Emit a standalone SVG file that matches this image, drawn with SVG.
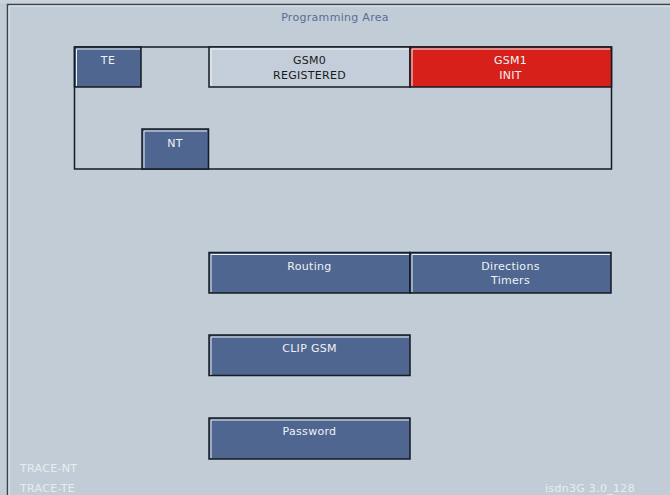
<svg xmlns="http://www.w3.org/2000/svg" width="670" height="495" viewBox="0 0 670 495">
<style>
text{font-family:"DejaVu Sans","Liberation Sans",sans-serif;font-size:11px;letter-spacing:0.3px;text-anchor:middle}
.btn{fill:#4e6690;stroke:#161a22;stroke-width:1.5}
.red{fill:#d8201a;stroke:#161a22;stroke-width:1.5}
.lt{fill:#c4ceda;stroke:#161a22;stroke-width:1.5}
.hl{fill:none;stroke:#eef2f6;stroke-width:1}
.w{fill:#eef2f6}
.k{fill:#1a1a1a}
.lbl{fill:#e8ecf1;text-anchor:start}
</style>
<rect x="0" y="0" width="670" height="495" fill="#c1ccd7"/>
<rect x="0" y="0" width="670" height="3.5" fill="#cbd2da"/>
<g id="frame">
<path d="M7.5 495 V4.5 H670" fill="none" stroke="#3c4048" stroke-width="1.5"/>
<path d="M9 495 V6 H670" fill="none" stroke="#e6ebf0" stroke-width="1"/>
<text x="335" y="21" fill="#5a6c96">Programming Area</text>
<rect x="74.5" y="47" width="537" height="122" fill="none" stroke="#161a22" stroke-width="1.5"/>
</g>
<g id="te">
<rect class="btn" x="74.5" y="47" width="66.5" height="40"/>
<path class="hl" d="M76.5 86 V49 H140"/>
<text class="w" x="108" y="64">TE</text>
</g>
<g id="gsm0">
<rect class="lt" x="209" y="47" width="201" height="40"/>
<path class="hl" d="M211 86 V49 H409"/>
<text class="k" x="309.5" y="64">GSM0</text>
<text class="k" x="309.5" y="79">REGISTERED</text>
</g>
<g id="gsm1">
<rect class="red" x="410" y="47" width="201.5" height="40"/>
<path class="hl" d="M412 86 V49 H610"/>
<text class="w" x="510.5" y="64">GSM1</text>
<text class="w" x="510.5" y="79">INIT</text>
</g>
<g id="nt">
<rect class="btn" x="142" y="129" width="66.5" height="40"/>
<path class="hl" d="M144 168 V131 H207"/>
<text class="w" x="175" y="147">NT</text>
</g>
<g id="routing">
<rect class="btn" x="209" y="252.5" width="201" height="40.5"/>
<path class="hl" d="M211 292 V254.5 H409"/>
<text class="w" x="309.5" y="270">Routing</text>
</g>
<g id="directions">
<rect class="btn" x="410" y="252.5" width="201" height="40.5"/>
<path class="hl" d="M412 292 V254.5 H610"/>
<text class="w" x="510.5" y="270">Directions</text>
<text class="w" x="510.5" y="284">Timers</text>
</g>
<g id="clip">
<rect class="btn" x="209" y="335" width="201" height="40.5"/>
<path class="hl" d="M211 375 V337 H409"/>
<text class="w" x="309.5" y="352">CLIP GSM</text>
</g>
<g id="password">
<rect class="btn" x="209" y="418" width="201" height="41"/>
<path class="hl" d="M211 458 V420 H409"/>
<text class="w" x="309.5" y="435">Password</text>
</g>
<g id="status">
<text class="lbl" x="20" y="472">TRACE-NT</text>
<text class="lbl" x="20" y="492">TRACE-TE</text>
<text class="lbl" x="545" y="492">isdn3G 3.0_128</text>
</g>
</svg>
